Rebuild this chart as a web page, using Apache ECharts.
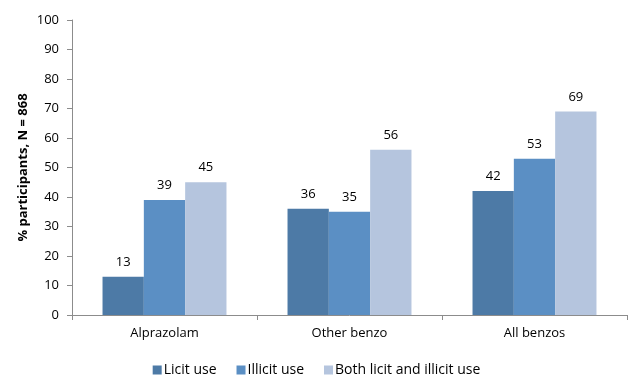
<!DOCTYPE html>
<html>
<head>
<meta charset="utf-8">
<script src="https://cdn.jsdelivr.net/npm/echarts@6/dist/echarts.min.js"></script>
<style>
  html, body { margin: 0; padding: 0; background: #fff; }
  #chart { width: 633px; height: 378px; }
</style>
</head>
<body>
<div id="chart"></div>
<script>
const categories = ['Alprazolam', 'Other benzo', 'All benzos'];
const licitUse = [13, 36, 42];
const illicitUse = [39, 35, 53];
const bothUse = [45, 56, 69];
const yTicks = { min: 0, max: 100, interval: 10 };

const font = "'Open Sans', 'Liberation Sans', sans-serif";
const chart = echarts.init(document.getElementById('chart'));

function bar(name, data, color) {
  return {
    name,
    type: 'bar',
    data,
    barGap: 0,
    barCategoryGap: '33%',
    itemStyle: { color },
    label: { show: true, position: 'top', distance: 8, color: '#000', fontSize: 13, fontFamily: font }
  };
}

chart.setOption({
  animation: false,
  grid: { left: 72, right: 6, top: 20, bottom: 63 },
  legend: {
    bottom: -4,
    left: 'center',
    itemWidth: 9,
    itemHeight: 9,
    itemGap: 20,
    icon: 'rect',
    textStyle: { fontSize: 14, fontFamily: font, color: '#000', padding: [0, 0, 0, -3] },
    data: ['Licit use', 'Illicit use', 'Both licit and illicit use']
  },
  xAxis: {
    type: 'category',
    data: categories,
    axisLine: { lineStyle: { color: '#8c8c8c' } },
    axisTick: { show: true, length: 5, lineStyle: { color: '#8c8c8c' } },
    axisLabel: { color: '#000', fontSize: 13, fontFamily: font, margin: 12 }
  },
  yAxis: {
    type: 'value',
    min: yTicks.min,
    max: yTicks.max,
    interval: yTicks.interval,
    name: '% participants, N = 868',
    nameLocation: 'middle',
    nameGap: 42,
    nameMoveOverlap: false,
    nameTextStyle: { fontSize: 13, fontWeight: 'bold', fontFamily: font, color: '#000' },
    axisLine: { show: true, lineStyle: { color: '#8c8c8c' } },
    axisTick: { show: true, length: 5, lineStyle: { color: '#8c8c8c' } },
    splitLine: { show: false },
    axisLabel: { color: '#000', fontSize: 13, fontFamily: font, margin: 13 }
  },
  series: [
    bar('Licit use', licitUse, '#4d7aa6'),
    bar('Illicit use', illicitUse, '#5b8fc4'),
    bar('Both licit and illicit use', bothUse, '#b5c5de')
  ]
});
</script>
</body>
</html>
